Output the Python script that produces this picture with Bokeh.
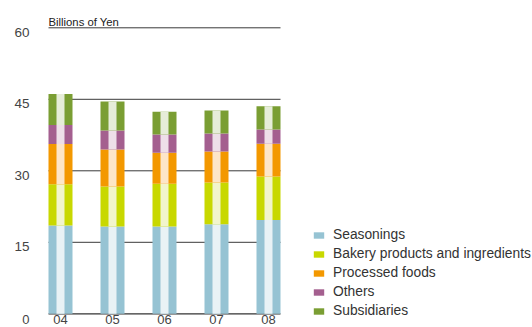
from bokeh.plotting import figure
from bokeh.models import ColumnDataSource, Range1d, Legend, LegendItem
from bokeh.core.properties import value
from bokeh.embed import file_html
from bokeh.resources import INLINE

# Net sales by segment, billions of yen
years = ["04", "05", "06", "07", "08"]
seasonings = [18.5, 18.3, 18.3, 18.8, 19.7]
bakery = [8.7, 8.4, 9.0, 8.75, 9.1]
processed = [8.4, 7.75, 6.5, 6.5, 6.9]
others = [4.0, 4.0, 3.8, 3.8, 2.95]
subsidiaries = [6.5, 6.1, 4.8, 4.8, 4.9]

series_names = ["Seasonings", "Bakery products and ingredients",
                "Processed foods", "Others", "Subsidiaries"]
series_values = [seasonings, bakery, processed, others, subsidiaries]
dark_colors = ["#96c3d3", "#c8d800", "#f39800", "#a45f8f", "#7a9e33"]
light_colors = ["#e9f2f5", "#f2f5cc", "#fde6c8", "#eedfe9", "#e6edd9"]

y_ticks = [15, 30, 45, 60]
unit_label = "Billions of Yen"

W, H = 532, 327
BAR_STEP = 52.0          # px between bar centres
FIRST_BAR = 60.0         # px of first bar centre
ZERO_Y = 313.3           # px of value 0
PX_PER_UNIT = 286.0 / 60

x_start = -FIRST_BAR / BAR_STEP
x_end = x_start + W / BAR_STEP
y_start = -(H - ZERO_Y) / PX_PER_UNIT
y_end = ZERO_Y / PX_PER_UNIT

p = figure(width=W, height=H, output_backend="svg", toolbar_location=None,
           x_range=Range1d(x_start, x_end), y_range=Range1d(y_start, y_end),
           x_axis_location=None, y_axis_location=None, min_border=0)
p.outline_line_color = None
p.grid.visible = False
p.background_fill_color = "white"

xs = list(range(len(years)))
bar_w = 24.0 / BAR_STEP
left_edge = -12.0 / BAR_STEP
right_edge = len(years) - 1 + 12.0 / BAR_STEP

# horizontal rules
p.segment(x0=[left_edge] * len(y_ticks), x1=[right_edge] * len(y_ticks),
          y0=y_ticks, y1=y_ticks, line_color="#3a3a3a", line_width=1)
p.segment(x0=[left_edge], x1=[right_edge], y0=[0], y1=[0],
          line_color="#333333", line_width=1.3)

# stacked bars with a light centre stripe
bottom = [0.0] * len(years)
legend_items = []
for name, vals, dc, lc in zip(series_names, series_values, dark_colors, light_colors):
    top = [b + v for b, v in zip(bottom, vals)]
    src = ColumnDataSource(dict(x=xs, bottom=bottom, top=top))
    r = p.vbar(x="x", width=bar_w, bottom="bottom", top="top", source=src,
               fill_color=dc, line_color=None)
    p.vbar(x="x", width=bar_w / 3, bottom="bottom", top="top", source=src,
           fill_color=lc, line_color=None)
    legend_items.append(LegendItem(label=name, renderers=[r]))
    bottom = top

# y tick labels
label_x = (29 - FIRST_BAR) / BAR_STEP
p.text(x=[label_x] * len(y_ticks), y=y_ticks, text=[str(t) for t in y_ticks],
       text_align="right", text_baseline="middle", y_offset=4.5,
       text_font=value("Liberation Sans"), text_font_size="13.5px",
       text_color="#444444")
p.text(x=[label_x], y=[0], text=["0"], text_align="right", text_baseline="middle",
       y_offset=6, text_font=value("Liberation Sans"), text_font_size="13px",
       text_color="#444444")

# x tick labels
p.text(x=xs, y=[0] * len(xs), text=years, text_align="center",
       text_baseline="middle", y_offset=6,
       text_font=value("Liberation Sans"), text_font_size="13px",
       text_color="#444444")

# unit caption above the top rule
p.text(x=[left_edge], y=[60], text=[unit_label], text_align="left",
       text_baseline="alphabetic", y_offset=-5.8,
       text_font=value("Liberation Sans"), text_font_size="11.3px",
       text_color="#222222")

legend = Legend(items=legend_items, location=(312, 7), orientation="vertical",
                glyph_width=13, glyph_height=8, label_standoff=8,
                label_height=19, spacing=0, padding=0, margin=0,
                border_line_color=None, background_fill_alpha=0,
                label_text_font="Liberation Sans", label_text_font_size="13.8px",
                label_text_color="#333333")
p.add_layout(legend)

open("out.html", "w").write(file_html(p, INLINE))
